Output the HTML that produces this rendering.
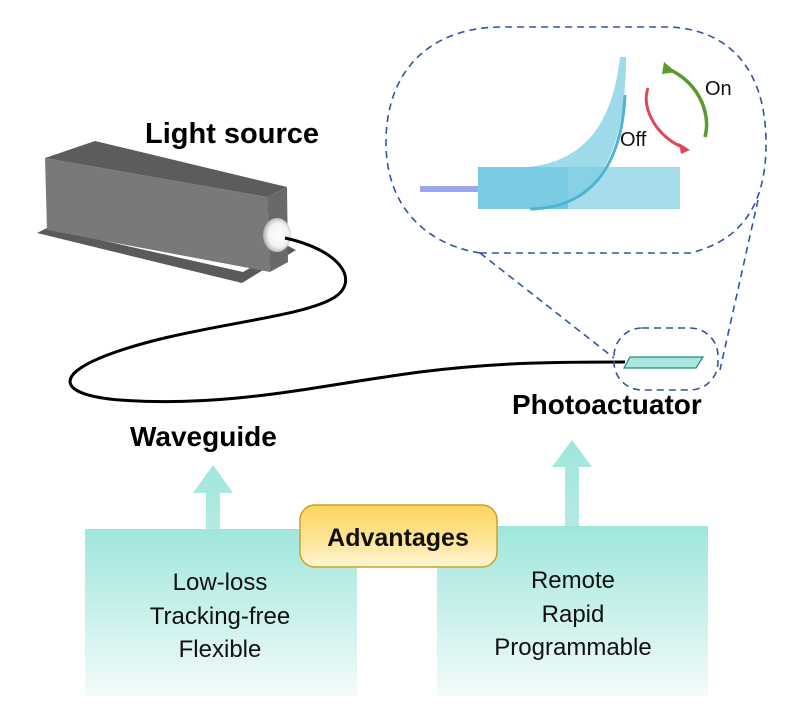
<!DOCTYPE html>
<html><head><meta charset="utf-8"><style>
html,body{margin:0;padding:0;background:#fff;}
svg{display:block;font-family:"Liberation Sans",Arial,sans-serif;}
</style></head><body>
<svg width="799" height="728" viewBox="0 0 799 728" xmlns="http://www.w3.org/2000/svg">
<defs>
<linearGradient id="tg" x1="0" y1="0" x2="0" y2="1">
<stop offset="0" stop-color="#9fe6dc"/><stop offset="1" stop-color="#f3fbfa"/>
</linearGradient>
<linearGradient id="ag" x1="0" y1="0" x2="0" y2="1">
<stop offset="0" stop-color="#9fe6dc"/><stop offset="1" stop-color="#b4ebe3"/>
</linearGradient>
<linearGradient id="yg" x1="0" y1="0" x2="0" y2="1">
<stop offset="0" stop-color="#fdd55e"/><stop offset="0.6" stop-color="#fde59a"/><stop offset="1" stop-color="#fff5d6"/>
</linearGradient>
<radialGradient id="lens" cx="0.55" cy="0.5" r="0.6">
<stop offset="0" stop-color="#ffffff"/><stop offset="0.6" stop-color="#f2f2f2"/><stop offset="1" stop-color="#9a9a9a"/>
</radialGradient>
</defs>

<polygon points="37,233 242,283 296,250 288,246 243,272 47,228" fill="#5a5a5a"/>
<polygon points="45,158 267,197 270,272 47,230" fill="#7a7878"/>
<polygon points="45,158 95,141 287,187 267,197" fill="#5d5c5c"/>
<polygon points="267,197 287,187 288,262 270,272" fill="#6a6969"/>
<ellipse cx="277" cy="235" rx="14" ry="17" fill="url(#lens)"/>

<path d="M285,238 C340,250 360,280 335,297 C300,320 180,325 100,358 C55,377 60,395 120,400 C230,408 320,385 420,372 C500,362 560,362 625,362" fill="none" stroke="#000" stroke-width="3"/>

<text x="145" y="143" font-size="29" font-weight="bold" fill="#000">Light source</text>
<text x="130" y="446" font-size="28" font-weight="bold" fill="#000">Waveguide</text>
<text x="512" y="414" font-size="28" font-weight="bold" fill="#000">Photoactuator</text>

<path d="M480,253 C430,245 385,210 386,140 C387,70 430,28 500,27 L670,27 C730,30 765,70 766,140 C767,200 745,240 690,253 Z" fill="none" stroke="#2f55a4" stroke-width="1.6" stroke-dasharray="7,5"/>
<line x1="480" y1="253" x2="614" y2="358" stroke="#2f55a4" stroke-width="1.6" stroke-dasharray="7,5"/>
<line x1="758" y1="200" x2="720" y2="370" stroke="#2f55a4" stroke-width="1.6" stroke-dasharray="7,5"/>
<rect x="614" y="328" width="104" height="62" rx="28" fill="none" stroke="#2f55a4" stroke-width="1.6" stroke-dasharray="7,5"/>
<polygon points="630,357 703,357 696,368 624,368" fill="#a8e8e0" stroke="#1f8a7a" stroke-width="1.2"/>

<rect x="420" y="186" width="58" height="6" fill="#9ca6ef"/>
<rect x="478" y="167" width="202" height="42" fill="#a6dceb"/>
<rect x="478" y="167" width="90" height="42" fill="#6fc6de"/>
<path d="M620,57 L626,57 C626,130 610,209 530,209 L478,209 L478,167 L528,167 C600,160 615,100 620,57 Z" fill="#7ccde3" opacity="0.75"/>
<path d="M625,95 C622,160 595,208 530,209" fill="none" stroke="#4fb3d2" stroke-width="3"/>

<path d="M705,137 C712,110 695,80 668,69" fill="none" stroke="#5a9a2e" stroke-width="3.5"/>
<polygon points="664,62 676,72 662,74" fill="#5a9a2e"/>
<path d="M648,88 C640,110 660,140 685,148" fill="none" stroke="#e0485a" stroke-width="3"/>
<polygon points="690,150 679,143 681,154" fill="#e0485a"/>
<text x="705" y="95" font-size="20" fill="#111">On</text>
<text x="620" y="146" font-size="20" fill="#111">Off</text>

<polygon points="213,465 233,493 220,493 220,530 206,530 206,493 193,493" fill="url(#ag)"/>
<polygon points="572,440 592,467 579,467 579,527 565,527 565,467 552,467" fill="url(#ag)"/>

<rect x="85" y="529" width="272" height="167" fill="url(#tg)"/>
<rect x="437" y="526" width="271" height="170" fill="url(#tg)"/>

<rect x="300" y="505" width="197" height="62" rx="15" fill="url(#yg)" stroke="#c9a227" stroke-width="1.5"/>
<text x="398" y="546" font-size="25" font-weight="bold" text-anchor="middle" fill="#111">Advantages</text>

<g font-size="24" text-anchor="middle" fill="#111">
<text x="220" y="590">Low-loss</text>
<text x="220" y="624">Tracking-free</text>
<text x="220" y="657">Flexible</text>
<text x="573" y="588">Remote</text>
<text x="573" y="622">Rapid</text>
<text x="573" y="655">Programmable</text>
</g>
</svg>
</body></html>
